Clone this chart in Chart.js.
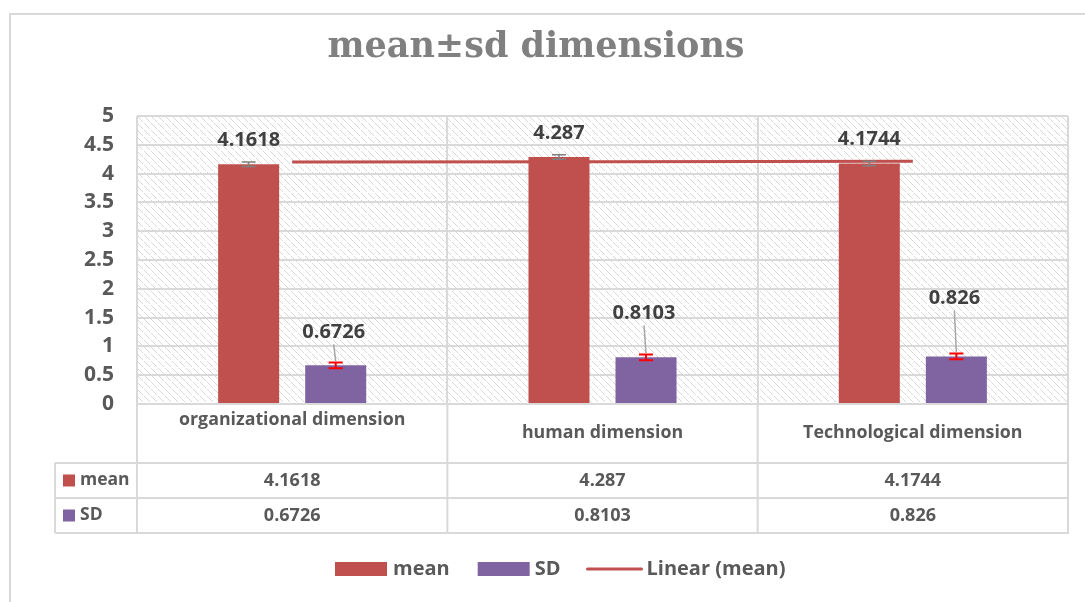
<!DOCTYPE html>
<html><head><meta charset="utf-8">
<script src="https://cdn.jsdelivr.net/npm/chart.js@4.4.0/dist/chart.umd.min.js"></script>
<style>html,body{margin:0;padding:0;background:#fff}#wrap{width:1085px;height:602px;position:relative}</style>
</head><body><div id="wrap"><canvas id="c" width="1085" height="602"></canvas></div>
<script>
const titleText = 'mean±sd dimensions';
const categories = ['organizational dimension', 'human dimension', 'Technological dimension'];
const seriesNames = ['mean', 'SD', 'Linear (mean)'];
const meanValues = [4.1618, 4.287, 4.1744];
const sdValues = [0.6726, 0.8103, 0.826];
const meanErrors = [0.04, 0.04, 0.04];
const sdErrors = [0.05, 0.05, 0.05];
const trendValues = [4.201, 4.207, 4.214];
const yTickLabels = ['0', '0.5', '1', '1.5', '2', '2.5', '3', '3.5', '4', '4.5', '5'];

const COLORS = { mean: '#C0504D', sd: '#8064A2', grid: '#d9d9d9', text: '#595959', label: '#404040' };
const FONT = '"Open Sans", Lato, sans-serif';
const sdLabelLift = [33, 44, 58];

function makeHatch(ctx) {
  const t = document.createElement('canvas');
  t.width = 7; t.height = 7;
  const c = t.getContext('2d');
  c.fillStyle = '#ffffff'; c.fillRect(0, 0, 7, 7);
  c.fillStyle = '#d8d8d8';
  for (let i = 0; i < 7; i++) { if (i !== 3) c.fillRect(i, i, 1, 1); }
  return ctx.createPattern(t, 'repeat');
}

const decor = {
  id: 'decor',
  beforeDraw(chart) {
    const ctx = chart.ctx, a = chart.chartArea;
    ctx.save();
    ctx.fillStyle = '#fff'; ctx.fillRect(0, 0, chart.width, chart.height);
    ctx.fillStyle = makeHatch(ctx);
    ctx.fillRect(a.left, a.top, a.right - a.left, a.bottom - a.top);
    ctx.strokeStyle = COLORS.grid; ctx.lineWidth = 2;
    ctx.strokeRect(10, 14, chart.width + 20, chart.height + 20);
    ctx.fillStyle = '#808080';
    ctx.font = 'bold 35px "DejaVu Serif", serif';
    ctx.textAlign = 'center'; ctx.textBaseline = 'alphabetic';
    ctx.fillText(titleText, 536, 57);
    ctx.restore();
  },
  afterDatasetsDraw(chart) {
    const ctx = chart.ctx, y = chart.scales.y;
    ctx.save();
    const m0 = chart.getDatasetMeta(1), m1 = chart.getDatasetMeta(2);
    const drawErr = (meta, vals, errs, color, lw) => {
      meta.data.forEach((el, i) => {
        const yt = y.getPixelForValue(vals[i] + errs[i]);
        const yb = y.getPixelForValue(vals[i] - errs[i]);
        ctx.strokeStyle = color; ctx.lineWidth = lw;
        ctx.beginPath();
        ctx.moveTo(el.x, yt); ctx.lineTo(el.x, yb);
        ctx.moveTo(el.x - 7, yt); ctx.lineTo(el.x + 7, yt);
        ctx.moveTo(el.x - 7, yb); ctx.lineTo(el.x + 7, yb);
        ctx.stroke();
      });
    };
    drawErr(m0, meanValues, meanErrors, '#808080', 1.5);
    drawErr(m1, sdValues, sdErrors, '#FF0000', 2);
    ctx.font = 'bold 20px ' + FONT;
    ctx.fillStyle = COLORS.label; ctx.textAlign = 'center'; ctx.textBaseline = 'middle';
    m0.data.forEach((el, i) => { ctx.fillText(String(meanValues[i]), el.x, el.y - 24); });
    m1.data.forEach((el, i) => {
      const ly = el.y - sdLabelLift[i];
      ctx.fillStyle = COLORS.label;
      ctx.fillText(String(sdValues[i]), el.x - 2, ly);
      const et = y.getPixelForValue(sdValues[i] + sdErrors[i]);
      ctx.strokeStyle = '#a6a6a6'; ctx.lineWidth = 1.5;
      ctx.beginPath(); ctx.moveTo(el.x - 2, ly + 12); ctx.lineTo(el.x, et - 1); ctx.stroke();
    });
    ctx.restore();
  },
  afterDraw(chart) {
    const ctx = chart.ctx, x = chart.scales.x, a = chart.chartArea;
    ctx.save();
    const r0 = 463, r1 = 498, r2 = 533, left = 55;
    ctx.strokeStyle = COLORS.grid; ctx.lineWidth = 2;
    ctx.beginPath();
    [r0, r1, r2].forEach(r => { ctx.moveTo(left, r); ctx.lineTo(a.right + 1, r); });
    ctx.moveTo(left, r0); ctx.lineTo(left, r2);
    const half = (x.getPixelForValue(1) - x.getPixelForValue(0)) / 2;
    const bounds = [a.left];
    categories.forEach((c, i) => bounds.push(x.getPixelForValue(i) + half));
    bounds.forEach(b => { ctx.moveTo(b, a.bottom); ctx.lineTo(b, r2); });
    ctx.stroke();
    ctx.textBaseline = 'middle';
    const rows = [[seriesNames[0], COLORS.mean, meanValues], [seriesNames[1], COLORS.sd, sdValues]];
    rows.forEach((row, ri) => {
      const cy = (ri === 0 ? (r0 + r1) / 2 : (r1 + r2) / 2);
      ctx.fillStyle = row[1]; ctx.fillRect(63, cy - 6, 12, 12);
      ctx.fillStyle = COLORS.text; ctx.textAlign = 'left';
      ctx.font = 'bold 17.5px ' + FONT;
      ctx.fillText(row[0], 80, cy);
      ctx.textAlign = 'center';
      ctx.font = 'bold 18px ' + FONT;
      row[2].forEach((v, i) => ctx.fillText(String(v), x.getPixelForValue(i), cy));
    });
    ctx.font = 'bold 20px ' + FONT; ctx.textAlign = 'left';
    let lx = 335; const ly = 569;
    ctx.fillStyle = COLORS.mean; ctx.fillRect(lx, ly - 7, 52, 14); lx += 58;
    ctx.fillStyle = COLORS.text; ctx.fillText(seriesNames[0], lx, ly); lx += ctx.measureText(seriesNames[0]).width + 28;
    ctx.fillStyle = COLORS.sd; ctx.fillRect(lx, ly - 7, 52, 14); lx += 57;
    ctx.fillStyle = COLORS.text; ctx.fillText(seriesNames[1], lx, ly); lx += ctx.measureText(seriesNames[1]).width + 27;
    ctx.strokeStyle = COLORS.mean; ctx.lineWidth = 3; ctx.lineCap = 'round';
    ctx.beginPath(); ctx.moveTo(lx, ly); ctx.lineTo(lx + 54, ly); ctx.stroke(); lx += 59;
    ctx.fillStyle = COLORS.text; ctx.fillText(seriesNames[2], lx, ly);
    ctx.restore();
  }
};

new Chart(document.getElementById('c'), {
  type: 'bar',
  data: {
    labels: categories,
    datasets: [
      { type: 'line', label: seriesNames[2], data: trendValues, borderColor: COLORS.mean, borderWidth: 3, pointRadius: 0, fill: false, order: 0 },
      { label: seriesNames[0], data: meanValues, backgroundColor: COLORS.mean, categoryPercentage: 0.561, barPercentage: 0.701, order: 2 },
      { label: seriesNames[1], data: sdValues, backgroundColor: COLORS.sd, categoryPercentage: 0.561, barPercentage: 0.701, order: 2 }
    ]
  },
  options: {
    responsive: false, animation: false, devicePixelRatio: 1,
    layout: { padding: { left: 10, top: 116, right: 17, bottom: 139 } },
    plugins: { legend: { display: false }, title: { display: false }, tooltip: { enabled: false } },
    scales: {
      x: {
        afterFit: s => { s.height = 59; },
        grid: { offset: true, color: COLORS.grid, lineWidth: 2, drawTicks: false },
        border: { color: COLORS.grid, width: 2 },
        ticks: {
          padding: 9, color: COLORS.text,
          font: { family: FONT, weight: 'bold', size: 17.8, lineHeight: 0.76 },
          callback: function (v, i) { return i === 0 ? categories[i] : ['', categories[i]]; }
        }
      },
      y: {
        min: 0, max: 5,
        afterFit: s => { s.width = 127; },
        grid: { color: COLORS.grid, lineWidth: 2, drawTicks: false },
        border: { display: false },
        ticks: {
          stepSize: 0.5, padding: 23, color: COLORS.text,
          font: { family: FONT, weight: 'bold', size: 21 },
          callback: function (v, i) { return yTickLabels[i]; }
        }
      }
    }
  },
  plugins: [decor]
});
</script></body></html>
